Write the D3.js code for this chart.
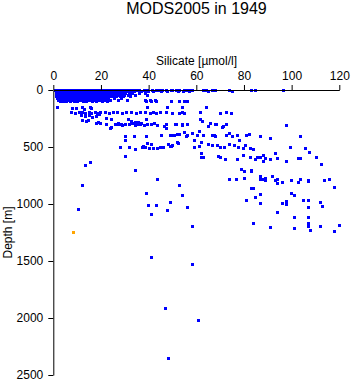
<!DOCTYPE html>
<html>
<head>
<meta charset="utf-8">
<script src="https://cdn.jsdelivr.net/npm/d3@7"></script>
<style>
  body { margin: 0; background: #fff; }
  svg { display: block; font-family: "Liberation Sans", Arial, sans-serif; }
</style>
</head>
<body>
<svg id="chart"></svg>
<script>
// silicate [umol/l] vs depth [m]

// surface layer: one row of silicate values per depth
const surfaceDepths = [2, 15, 30, 45, 60, 75, 90, 105]
const surfaceSilicate = [
    [1.0, 2.1, 3.3, 4.4, 5.6, 6.8, 7.9, 9.1, 10.3, 11.4, 12.6, 13.8, 14.9, 16.1, 17.3, 18.4, 19.6, 20.8, 21.9, 23.1, 24.3, 25.4, 26.6, 27.8, 28.9, 30.1, 31.3, 32.4, 33.6, 35.0, 36.3, 38.4, 39.7, 41.8, 43.1, 44.7, 46.0, 47.3, 49.4, 50.2, 51.9, 53.1, 55.2, 56.5, 57.7, 58.6, 63.2, 64.4, 67.0, 68.2, 74.1, 83.3, 85.0, 96.7],
    [1.4, 2.6, 3.9, 5.0, 6.2, 7.4, 8.6, 9.7, 10.9, 12.1, 13.2, 14.4, 15.6, 16.8, 17.9, 19.1, 20.3, 21.4, 22.6, 23.8, 24.9, 26.1, 27.3, 28.4, 29.6, 30.8, 32.0, 34.1, 37.0, 40.1, 42.2, 45.3, 48.0, 52.6, 54.5, 57.1, 65.0, 75.1],
    [1.2, 2.4, 3.6, 4.7, 5.9, 7.1, 8.2, 9.4, 10.6, 11.7, 12.9, 14.1, 15.2, 16.4, 17.6, 18.7, 19.9, 21.1, 22.2, 23.4, 24.6, 25.7, 26.9, 28.1, 29.2, 30.5, 31.8, 33.2, 36.0, 38.8],
    [1.5, 2.7, 3.8, 5.0, 6.2, 7.3, 8.5, 9.7, 10.8, 12.0, 13.2, 14.3, 15.5, 16.7, 17.8, 19.0, 20.2, 21.3, 22.5, 23.7, 24.8, 26.0, 27.2, 28.5, 29.9, 31.4, 34.5, 39.5],
    [1.3, 2.5, 3.7, 4.9, 6.0, 7.2, 8.4, 9.5, 10.7, 11.9, 13.0, 14.2, 15.4, 16.5, 17.7, 18.9, 20.0, 21.2, 22.4, 23.6, 25.0, 26.5, 28.0, 29.6, 32.3],
    [1.6, 2.9, 4.1, 5.3, 6.5, 7.7, 8.9, 10.1, 11.3, 12.5, 13.6, 14.8, 16.0, 17.2, 18.4, 19.6, 20.8, 22.0, 23.3, 25.8, 28.6],
    [2.2, 3.4, 4.6, 5.8, 7.0, 8.2, 9.4, 10.6, 11.8, 13.0, 14.2, 15.4, 16.6, 17.8, 19.0, 20.3, 21.6, 24.2, 27.4, 31.0, 38.6, 40.8, 43.0],
    [3.0, 4.4, 5.7, 7.2, 8.8, 10.2, 12.6, 14.0, 16.3, 18.1, 20.5, 22.8, 39.3, 41.4, 43.5, 49.4, 53.1, 55.2, 56.2]
]

// [silicate, depth] pairs, 100-450 m
const upperPoints = [
    [1.7, 155], [8.2, 160], [9.9, 158], [12.1, 150], [13.3, 170], [15.4, 150], [16.0, 160],
    [39.7, 150], [48.1, 150], [54.1, 155], [64.4, 150],
    [7.8, 200], [9.5, 205], [11.2, 195], [12.4, 200], [13.6, 210], [15.0, 198], [16.2, 205],
    [17.5, 195], [18.7, 208], [19.9, 200], [22.0, 196], [23.4, 205], [25.2, 200], [26.8, 193],
    [29.0, 205], [30.6, 200], [32.8, 196], [34.7, 205], [36.4, 200], [38.8, 193], [40.6, 205],
    [41.9, 198], [43.2, 205], [44.8, 196], [47.5, 200], [50.0, 205], [53.1, 205], [54.1, 196],
    [55.2, 205], [61.9, 195], [70.3, 210], [72.8, 200], [74.9, 210],
    [12.0, 225], [13.5, 235], [15.2, 220], [16.5, 240], [18.0, 230], [19.2, 215],
    [12.4, 268], [13.8, 275], [14.6, 265], [18.9, 284], [22.4, 248], [24.5, 263],
    [27.3, 301], [28.7, 301], [23.8, 336], [24.5, 333],
    [31.4, 263], [32.9, 278], [34.3, 284], [35.6, 284], [36.4, 307], [39.2, 263],
    [18.2, 298], [19.6, 290], [22.4, 307], [25.9, 300], [27.5, 295], [29.0, 310], [30.4, 300],
    [31.8, 305], [33.2, 298], [34.5, 310], [35.8, 302], [37.0, 296], [38.2, 312], [39.6, 300],
    [41.0, 305], [42.5, 298], [43.6, 310], [46.8, 320], [47.5, 307], [47.3, 342],
    [51.2, 301], [54.1, 301], [56.2, 301], [51.9, 307], [54.3, 312],
    [61.9, 255], [62.8, 280], [66.1, 290], [68.2, 305], [71.2, 325], [72.8, 300], [98.0, 310],
    [65.0, 322], [68.5, 307], [71.3, 322],
    [30.1, 404], [30.1, 439], [33.9, 412], [39.3, 412],
    [45.5, 395], [49.0, 395], [49.4, 395], [51.0, 395], [52.3, 386], [53.1, 386], [55.2, 374],
    [55.9, 410], [56.1, 395], [58.2, 380], [60.3, 395], [61.5, 366], [63.2, 395], [67.0, 395],
    [68.2, 404], [61.2, 360], [62.9, 400], [67.8, 400], [72.7, 395], [74.1, 380], [75.2, 410],
    [77.3, 395], [78.3, 439], [81.1, 395], [82.2, 389], [87.1, 412], [91.3, 425], [103.9, 405]
]

// 450-800 m
const middlePoints = [
    [52.2, 462], [49.2, 497], [50.2, 491], [59.1, 447], [59.1, 503], [61.2, 497], [62.1, 459],
    [28.2, 500], [32.1, 506], [34.4, 526], [37.5, 500], [37.7, 497], [38.5, 505], [39.4, 465],
    [40.2, 515], [41.3, 482], [41.4, 477], [41.9, 511], [43.6, 511], [44.8, 505], [46.1, 500],
    [48.2, 482], [49.6, 497], [52.4, 468],
    [65.3, 482], [67.0, 485], [69.0, 485], [70.3, 503], [72.0, 503], [74.1, 474], [76.2, 485],
    [77.9, 503], [80.0, 515], [80.8, 491], [82.9, 512], [84.0, 526],
    [30.1, 579], [15.4, 632], [13.4, 665], [34.3, 702],
    [62.1, 561], [62.1, 590], [63.2, 594], [69.2, 579], [70.2, 590], [72.1, 614], [77.1, 608],
    [80.0, 573], [82.9, 594], [85.0, 614], [85.8, 594], [87.0, 594], [88.1, 573], [89.1, 603],
    [91.0, 614], [88.1, 626], [93.1, 561], [93.9, 605], [98.0, 625], [99.7, 500], [103.0, 600],
    [103.9, 605], [106.0, 510], [107.7, 545], [110.6, 595], [112.7, 655],
    [79.0, 696], [80.1, 719], [83.0, 702], [83.0, 713],
    [43.9, 789], [74.1, 789], [76.7, 783], [80.1, 775],
    [87.0, 757], [87.0, 789], [88.1, 781], [89.1, 775], [89.1, 798], [92.0, 757],
    [93.1, 798], [93.9, 789], [99.8, 798], [103.9, 787], [106.9, 790], [106.9, 802],
    [113.9, 798], [115.7, 789]
]

// deeper than 800 m
const deepPoints = [
    [12.3, 842], [53.1, 836], [93.9, 818], [96.0, 813], [102.9, 810], [117.8, 854],
    [83.2, 862], [84.2, 862], [39.3, 904], [54.1, 924], [87.0, 915], [85.0, 941],
    [100.0, 906], [101.1, 924], [80.9, 971], [87.0, 994], [96.0, 994], [97.9, 974],
    [97.9, 1006], [104.8, 968], [106.9, 968], [112.0, 988], [112.8, 1023], [106.9, 1029],
    [49.2, 991], [40.1, 1009], [43.1, 1009], [10.4, 1044], [56.2, 1032], [48.1, 1059],
    [41.3, 1088], [93.9, 1073], [101.1, 1117], [106.9, 1117], [106.9, 1170], [106.9, 1193],
    [107.8, 1231], [112.0, 1193], [119.9, 1187], [117.8, 1240], [101.1, 1214], [91.0, 1202],
    [84.2, 1170], [58.3, 1193],
    [41.4, 1468], [58.3, 1530], [47.1, 1915], [61.1, 2020], [48.2, 2353]
]

// the one sample drawn in orange
const flaggedPoints = [[8.4, 1248]]

const xTicks = [0, 20, 40, 60, 80, 100, 120]
const yTicks = [0, 500, 1000, 1500, 2000, 2500]

const width = 351, height = 384
const svg = d3.select('#chart').attr('width', width).attr('height', height)

const x = d3.scaleLinear().domain([0, 120]).range([53.3, 339.3])
const y = d3.scaleLinear().domain([0, 2500]).range([90, 375])

const blue = []
surfaceDepths.forEach((d, i) => surfaceSilicate[i].forEach(s => blue.push([s, d])))
upperPoints.forEach(p => blue.push(p))
middlePoints.forEach(p => blue.push(p))
deepPoints.forEach(p => blue.push(p))

const SIZE = 3
const drawPoints = (data, colour) => {
    svg.append('g')
        .selectAll('rect').data(data).enter().append('rect')
        .attr('x', d => x(d[0]) - SIZE / 2)
        .attr('y', d => y(d[1]) - SIZE / 2)
        .attr('width', SIZE)
        .attr('height', SIZE)
        .attr('fill', colour)
        .attr('shape-rendering', 'crispEdges')
}
drawPoints(blue, '#0000ff')
drawPoints(flaggedPoints, '#ffa500')

// axes
const xAxis = svg.append('g')
    .attr('transform', `translate(0,${y(0)})`)
    .call(d3.axisTop(x).tickValues(xTicks).tickFormat(d3.format('d'))
        .tickSize(5).tickSizeOuter(0).tickPadding(5))
const yAxis = svg.append('g')
    .attr('transform', `translate(${x(0)},0)`)
    .call(d3.axisLeft(y).tickValues(yTicks).tickFormat(d3.format('d'))
        .tickSize(5).tickSizeOuter(0).tickPadding(5))

;[xAxis, yAxis].forEach(g => {
    g.attr('font-family', null).attr('font-size', null)
    g.selectAll('text').style('font-size', '12px').attr('fill', '#000')
    g.selectAll('line, path').attr('stroke', '#000')
})

// labels
svg.append('text')
    .attr('x', 196.5).attr('y', 14)
    .attr('text-anchor', 'middle')
    .style('font-size', '16px')
    .text('MODS2005 in 1949')

svg.append('text')
    .attr('x', 196.5).attr('y', 65)
    .attr('text-anchor', 'middle')
    .style('font-size', '12px')
    .text('Silicate [µmol/l]')

svg.append('text')
    .attr('transform', 'translate(12,232.5) rotate(-90)')
    .attr('text-anchor', 'middle')
    .style('font-size', '12px')
    .text('Depth [m]')
</script>
</body>
</html>
